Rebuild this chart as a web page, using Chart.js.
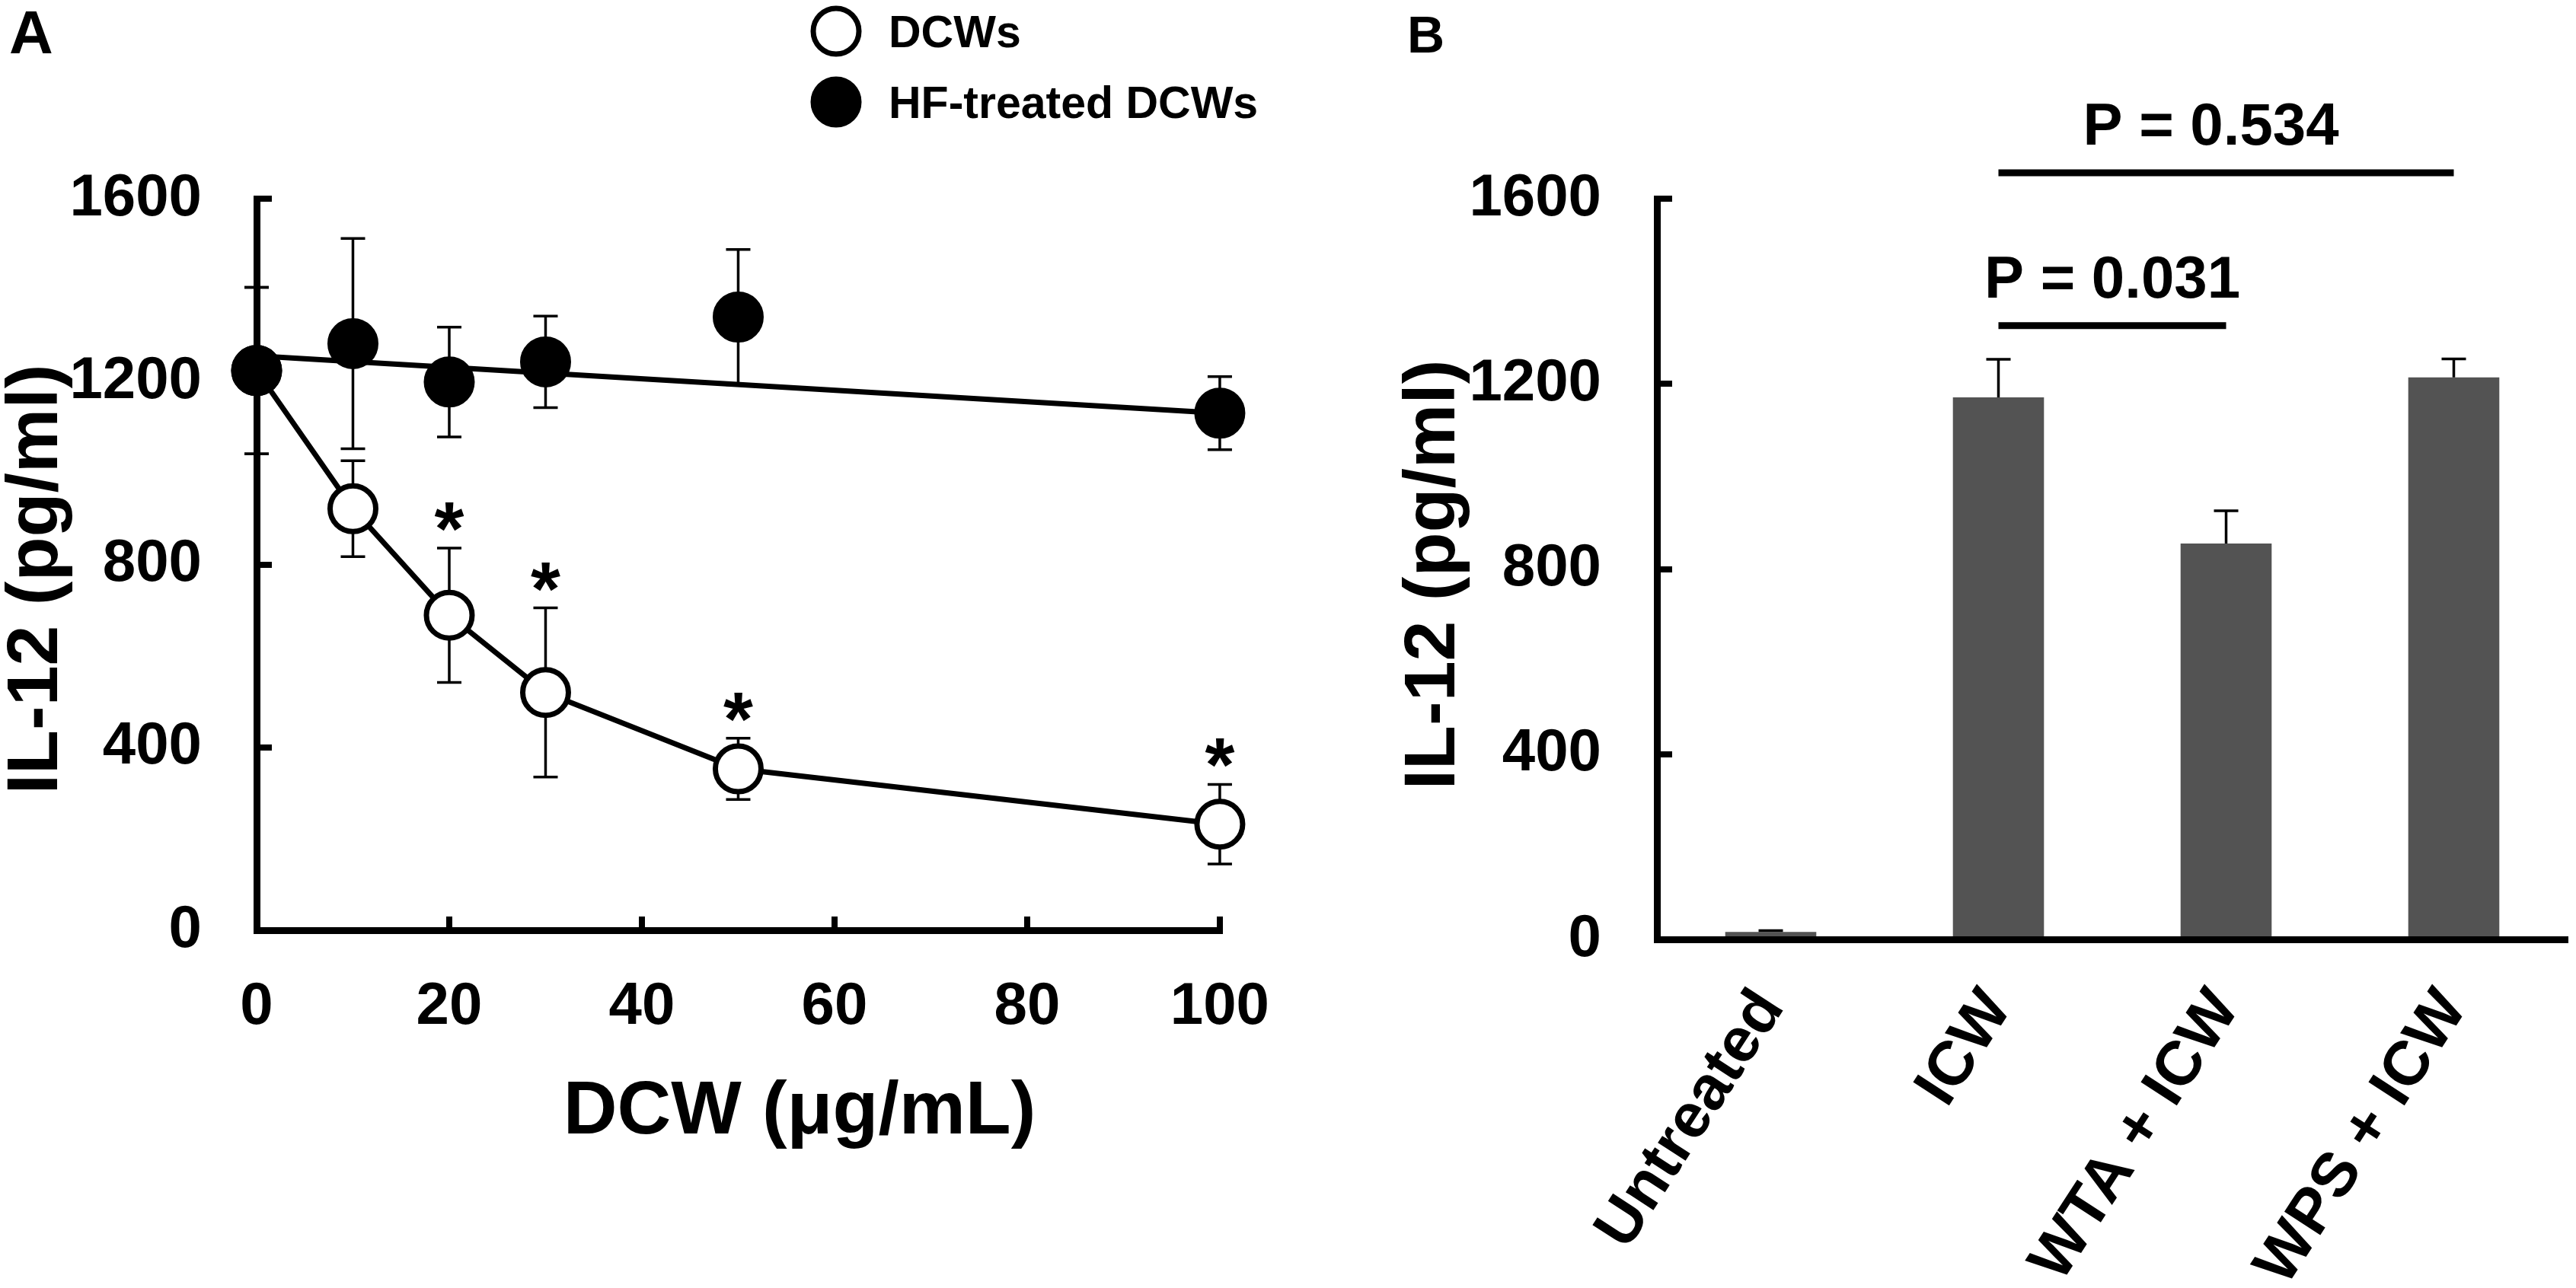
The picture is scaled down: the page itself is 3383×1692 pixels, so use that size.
<!DOCTYPE html>
<html>
<head>
<meta charset="utf-8">
<script src="https://cdn.jsdelivr.net/npm/chart.js@4.4.0/dist/chart.umd.min.js"></script>
<style>
  html, body { margin: 0; padding: 0; background: #fff; }
  body { width: 3383px; height: 1692px; position: relative; overflow: hidden; }
  canvas { position: absolute; top: 0; }
  #panelA { left: 0; }
  #panelB { left: 1750px; }
</style>
</head>
<body>
<canvas id="panelA" width="1740" height="1692"></canvas>
<canvas id="panelB" width="1633" height="1692"></canvas>
<script>
// panel A: IL-12 vs DCW dose
const doses = [0, 10, 20, 30, 50, 100];
const dcwMean = [1224, 922, 689, 520, 353, 232];
const dcwErr = [182, 105, 147, 185, 67, 87];
const hfMean = [1224, 1283, 1199, 1243, 1341, 1131];
const hfErr = [182, 230, 120, 100, 148, 80];
const hfTrendX = [0, 100];
const hfTrendY = [1256, 1131];
const starDoses = [20, 30, 50, 100];
const xTicksA = [0, 20, 40, 60, 80, 100];
const yTicks = [0, 400, 800, 1200, 1600];

// panel B: bars
const groups = ['Untreated', 'ICW', 'WTA + ICW', 'WPS + ICW'];
const il12Mean = [16, 1171, 855, 1214];
const il12Err = [3, 82, 71, 40];
const sigPairs = [[1, 2], [1, 3]];
const sigLevels = [1326, 1656];
const sigLabels = ['P = 0.031', 'P = 0.534'];

const FONT = "'Liberation Sans', Arial, Helvetica, sans-serif";
Chart.defaults.font.family = FONT;
Chart.defaults.color = '#000';

// small nudge of the p-value labels (px)
const sigTextShift = [0, -20];

const pts = (xs, ys) => xs.map((v, i) => ({x: v, y: ys[i]}));

function yAxis(width, pad) {
    return {
        min: 0, max: 1600,
        afterBuildTicks: s => { s.ticks = yTicks.map(v => ({value: v})); },
        afterFit: s => { s.width = width; },
        grid: { drawOnChartArea: false, drawTicks: true, tickLength: -20, lineWidth: 8, color: '#000' },
        border: { display: true, width: 9, color: '#000' },
        ticks: { font: {size: 78, weight: 'bold'}, padding: pad, callback: v => String(v) }
    };
}

const annotA = {
    id: 'annotA',
    beforeDatasetsDraw(chart) {
        const {ctx, scales: {x, y}} = chart;
        ctx.save();
        ctx.strokeStyle = '#000';
        ctx.lineWidth = 3.5;
        [[dcwMean, dcwErr], [hfMean, hfErr]].forEach(([m, e]) => {
            doses.forEach((d, i) => {
                const px = x.getPixelForValue(d);
                const top = y.getPixelForValue(m[i] + e[i]);
                const bot = y.getPixelForValue(m[i] - e[i]);
                ctx.beginPath();
                ctx.moveTo(px, top); ctx.lineTo(px, bot);
                ctx.moveTo(px - 16, top); ctx.lineTo(px + 16, top);
                ctx.moveTo(px - 16, bot); ctx.lineTo(px + 16, bot);
                ctx.stroke();
            });
        });
        ctx.restore();
    },
    afterDraw(chart) {
        const {ctx, scales: {x, y}} = chart;
        ctx.save();
        ctx.fillStyle = '#000';
        // asterisks
        ctx.font = `bold 100px ${FONT}`;
        ctx.textAlign = 'center';
        ctx.textBaseline = 'alphabetic';
        starDoses.forEach(d => {
            const i = doses.indexOf(d);
            const top = y.getPixelForValue(dcwMean[i] + dcwErr[i]);
            ctx.fillText('*', x.getPixelForValue(d), top + 9);
        });
        // legend
        ctx.lineWidth = 7;
        ctx.strokeStyle = '#000';
        ctx.beginPath(); ctx.arc(1098, 41, 30, 0, Math.PI * 2);
        ctx.fillStyle = '#fff'; ctx.fill(); ctx.stroke();
        ctx.beginPath(); ctx.arc(1098, 134, 30, 0, Math.PI * 2);
        ctx.fillStyle = '#000'; ctx.fill(); ctx.stroke();
        ctx.font = `bold 59px ${FONT}`;
        ctx.textAlign = 'left';
        ctx.textBaseline = 'alphabetic';
        ctx.fillText('DCWs', 1167, 62);
        ctx.fillText('HF-treated DCWs', 1167, 155);
        // panel letter
        ctx.font = `bold 80px ${FONT}`;
        ctx.fillText('A', 12, 70);
        // axis titles
        ctx.font = `bold 98px ${FONT}`;
        ctx.textAlign = 'center';
        ctx.fillText('DCW (μg/mL)', 1050, 1489);
        ctx.font = `bold 95px ${FONT}`;
        ctx.translate(75, 761);
        ctx.rotate(-Math.PI / 2);
        ctx.fillText('IL-12 (pg/ml)', 0, 0);
        ctx.restore();
    }
};

new Chart(document.getElementById('panelA'), {
    type: 'line',
    data: {
        datasets: [{
            label: 'HF-treated DCWs',
            data: pts(doses, hfMean),
            showLine: false,
            pointRadius: 30,
            pointBorderWidth: 7,
            pointBackgroundColor: '#000',
            pointBorderColor: '#000',
            clip: false,
            order: 0
        }, {
            label: 'DCWs',
            data: pts(doses, dcwMean),
            borderColor: '#000',
            borderWidth: 7,
            tension: 0,
            pointRadius: 30,
            pointBorderWidth: 7,
            pointBackgroundColor: '#fff',
            pointBorderColor: '#000',
            clip: false,
            order: 1
        }, {
            label: 'HF trend',
            data: pts(hfTrendX, hfTrendY),
            borderColor: '#000',
            borderWidth: 7,
            pointRadius: 0,
            clip: false,
            order: 2
        }]
    },
    options: {
        responsive: false,
        animation: false,
        devicePixelRatio: 1,
        layout: { padding: {top: 261, left: 0, right: 129, bottom: 0} },
        plugins: { legend: {display: false}, tooltip: {enabled: false} },
        scales: {
            x: {
                type: 'linear', min: 0, max: 100,
                afterBuildTicks: s => { s.ticks = xTicksA.map(v => ({value: v})); },
                afterFit: s => { s.height = 470; },
                grid: { drawOnChartArea: false, drawTicks: true, tickLength: -18, lineWidth: 8, color: '#000' },
                border: { display: true, width: 9, color: '#000' },
                ticks: { font: {size: 78, weight: 'bold'}, padding: 73, maxRotation: 0, minRotation: 0, callback: v => String(v) }
            },
            y: yAxis(337, 92)
        }
    },
    plugins: [annotA]
});

const annotB = {
    id: 'annotB',
    afterDatasetsDraw(chart) {
        const {ctx, scales: {x, y}} = chart;
        ctx.save();
        ctx.strokeStyle = '#000';
        ctx.lineWidth = 3.5;
        groups.forEach((g, i) => {
            const px = x.getPixelForValue(i);
            const base = y.getPixelForValue(il12Mean[i]);
            const top = y.getPixelForValue(il12Mean[i] + il12Err[i]);
            ctx.beginPath();
            ctx.moveTo(px, base); ctx.lineTo(px, top);
            ctx.moveTo(px - 16, top); ctx.lineTo(px + 16, top);
            ctx.stroke();
        });
        ctx.lineWidth = 9;
        ctx.fillStyle = '#000';
        ctx.font = `bold 78px ${FONT}`;
        ctx.textAlign = 'center';
        ctx.textBaseline = 'alphabetic';
        sigPairs.forEach(([a, b], k) => {
            const x1 = x.getPixelForValue(a);
            const x2 = x.getPixelForValue(b);
            const ly = y.getPixelForValue(sigLevels[k]);
            ctx.beginPath(); ctx.moveTo(x1, ly); ctx.lineTo(x2, ly); ctx.stroke();
            ctx.fillText(sigLabels[k], (x1 + x2) / 2 + sigTextShift[k], ly - 37);
        });
        ctx.restore();
    },
    afterDraw(chart) {
        const ctx = chart.ctx;
        ctx.save();
        ctx.fillStyle = '#000';
        ctx.textBaseline = 'alphabetic';
        ctx.textAlign = 'left';
        ctx.font = `bold 68px ${FONT}`;
        ctx.fillText('B', 98, 69);
        ctx.font = `bold 95px ${FONT}`;
        ctx.textAlign = 'center';
        ctx.translate(160, 755);
        ctx.rotate(-Math.PI / 2);
        ctx.fillText('IL-12 (pg/ml)', 0, 0);
        ctx.restore();
    }
};

new Chart(document.getElementById('panelB'), {
    type: 'bar',
    data: {
        labels: groups,
        datasets: [{
            label: 'IL-12',
            data: il12Mean,
            backgroundColor: '#535353',
            borderWidth: 0,
            barPercentage: 0.4,
            categoryPercentage: 1.0
        }]
    },
    options: {
        responsive: false,
        animation: false,
        devicePixelRatio: 1,
        layout: { padding: {top: 261, left: 0, right: 11, bottom: 0} },
        plugins: { legend: {display: false}, tooltip: {enabled: false} },
        scales: {
            x: {
                z: 1,
                afterFit: s => { s.height = 458; },
                grid: { display: true, drawOnChartArea: false, drawTicks: false },
                border: { display: true, width: 9, color: '#000' },
                ticks: { font: {size: 82, weight: 'bold'}, padding: 50, minRotation: 57, maxRotation: 57, autoSkip: false }
            },
            y: yAxis(426, 93)
        }
    },
    plugins: [annotB]
});
</script>
</body>
</html>
